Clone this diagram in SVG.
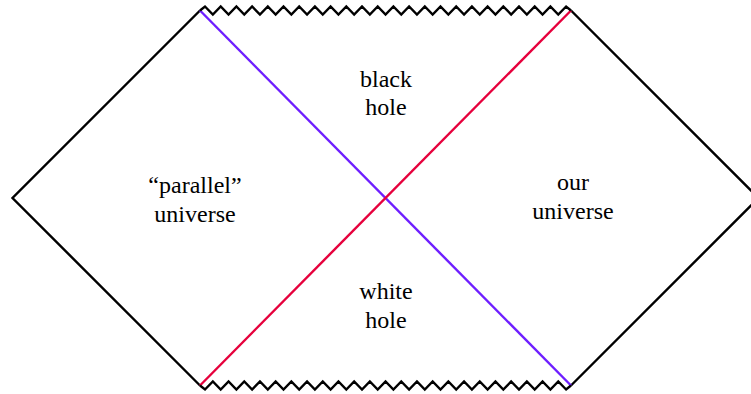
<svg xmlns="http://www.w3.org/2000/svg" width="751" height="394" viewBox="0 0 751 394">
<style>
.edge{fill:none;stroke:#000;stroke-width:2.4;stroke-linejoin:miter}
.sing{fill:none;stroke:#000;stroke-width:2.4;stroke-linejoin:miter}
.hz1{fill:none;stroke:#6e1eff;stroke-width:2.4}
.hz2{fill:none;stroke:#e6003c;stroke-width:2.4}
text{font-family:"Liberation Serif","Times New Roman",serif;font-size:24px;fill:#000;text-anchor:middle}
</style>
<rect width="751" height="394" fill="#fff"/>
<g id="connectors">
<path class="edge" d="M200,10.5 L12.5,198 L200,385.5"/>
<path class="edge" d="M571,10.5 L758.5,198 L571,385.5"/>
<path class="hz1" d="M200,10.5 L571,385.5"/>
<path class="hz2" d="M200,385.5 L571,10.5"/>
<path id="top-singularity" class="sing" d="M200,10.5 L205,6.5 L212.85,14.5 L220.7,6.5 L228.55,14.5 L236.4,6.5 L244.25,14.5 L252.1,6.5 L259.95,14.5 L267.8,6.5 L275.65,14.5 L283.5,6.5 L291.35,14.5 L299.2,6.5 L307.05,14.5 L314.9,6.5 L322.75,14.5 L330.6,6.5 L338.45,14.5 L346.3,6.5 L354.15,14.5 L362,6.5 L369.85,14.5 L377.7,6.5 L385.55,14.5 L393.4,6.5 L401.25,14.5 L409.1,6.5 L416.95,14.5 L424.8,6.5 L432.65,14.5 L440.5,6.5 L448.35,14.5 L456.2,6.5 L464.05,14.5 L471.9,6.5 L479.75,14.5 L487.6,6.5 L495.45,14.5 L503.3,6.5 L511.15,14.5 L519,6.5 L526.85,14.5 L534.7,6.5 L542.55,14.5 L550.4,6.5 L558.25,14.5 L566.1,6.5 L571,10.5"/>
<path id="bottom-singularity" class="sing" d="M200,385.5 L205,389.5 L212.85,381.5 L220.7,389.5 L228.55,381.5 L236.4,389.5 L244.25,381.5 L252.1,389.5 L259.95,381.5 L267.8,389.5 L275.65,381.5 L283.5,389.5 L291.35,381.5 L299.2,389.5 L307.05,381.5 L314.9,389.5 L322.75,381.5 L330.6,389.5 L338.45,381.5 L346.3,389.5 L354.15,381.5 L362,389.5 L369.85,381.5 L377.7,389.5 L385.55,381.5 L393.4,389.5 L401.25,381.5 L409.1,389.5 L416.95,381.5 L424.8,389.5 L432.65,381.5 L440.5,389.5 L448.35,381.5 L456.2,389.5 L464.05,381.5 L471.9,389.5 L479.75,381.5 L487.6,389.5 L495.45,381.5 L503.3,389.5 L511.15,381.5 L519,389.5 L526.85,381.5 L534.7,389.5 L542.55,381.5 L550.4,389.5 L558.25,381.5 L566.1,389.5 L571,385.5"/>
</g>
<g id="black-hole"><text x="386" y="86.5">black</text><text x="386" y="115">hole</text></g>
<g id="parallel-universe"><text x="195" y="193">“parallel”</text><text x="195" y="221.5">universe</text></g>
<g id="our-universe"><text x="573" y="190">our</text><text x="573" y="218.5">universe</text></g>
<g id="white-hole"><text x="386" y="299">white</text><text x="386" y="327.5">hole</text></g>
</svg>
